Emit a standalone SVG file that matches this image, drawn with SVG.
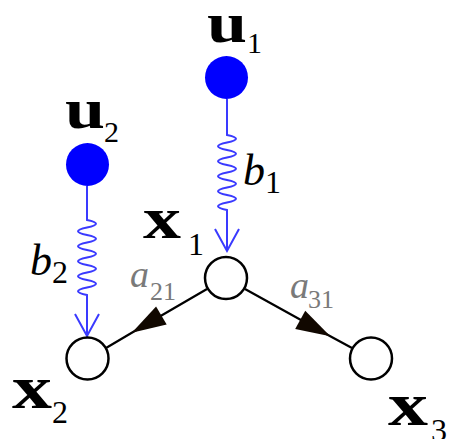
<svg xmlns="http://www.w3.org/2000/svg" width="451" height="439" viewBox="0 0 451 439">
<style>
.src{fill:#0000ff}
.node{fill:#fff;stroke:#000;stroke-width:2.5}
.blue{fill:none;stroke:#3a3aff;stroke-width:2}
.edge{fill:none;stroke:#000;stroke-width:2.2}
.bf{font-family:"Liberation Serif",serif;font-weight:bold;fill:#000}
.it{font-family:"Liberation Serif",serif;font-style:italic}
.rm{font-family:"Liberation Serif",serif}
.lbl{fill:#000}
.gr{fill:#7a7a7a}
</style>
<defs>
<marker id="tri" markerUnits="userSpaceOnUse" markerWidth="40" markerHeight="30" viewBox="-38 -13 42 26" refX="0" refY="0" orient="auto">
<path d="M0,0 L-36,-11 L-36,11 Z" fill="#110800"/>
</marker>
</defs>
<g id="connectors">
<path class="blue" d="M227,99 V135 q18,3.75 0,7.5 t0,7.5 t0,7.5 t0,7.5 t0,7.5 t0,7.5 t0,7.5 t0,7.5 t0,7.5 t0,7.5 V250 M215,229 L227,251 L239,229"/>
<path class="blue" d="M87,186 V220 q18,3.75 0,7.5 t0,7.5 t0,7.5 t0,7.5 t0,7.5 t0,7.5 t0,7.5 t0,7.5 t0,7.5 t0,7.5 V336 M75,314 L87,336 L99,314"/>
<path class="edge" marker-mid="url(#tri)" d="M207,289 L131.8,332.8 L106,348"/>
<path class="edge" marker-mid="url(#tri)" d="M245,289 L330.3,336.3 L352,348"/>
</g>
<g id="u1">
<circle class="src" cx="226.5" cy="77.5" r="21.5"/>
<text class="bf" x="207" y="42" font-size="58" textLength="40" lengthAdjust="spacingAndGlyphs">u</text>
<text class="rm lbl" x="247" y="53" font-size="30">1</text>
</g>
<g id="u2">
<circle class="src" cx="87.5" cy="164.5" r="21.5"/>
<text class="bf" x="65" y="128" font-size="58" textLength="40" lengthAdjust="spacingAndGlyphs">u</text>
<text class="rm lbl" x="104" y="142" font-size="30">2</text>
</g>
<g id="b1">
<text class="it lbl" x="243" y="185" font-size="44">b</text>
<text class="rm lbl" x="265" y="193" font-size="32">1</text>
</g>
<g id="b2">
<text class="it lbl" x="30" y="275" font-size="44">b</text>
<text class="rm lbl" x="52" y="283" font-size="32">2</text>
</g>
<g id="x1">
<circle class="node" cx="226" cy="278" r="21"/>
<text class="bf" x="143" y="238" font-size="60" textLength="38" lengthAdjust="spacingAndGlyphs">x</text>
<text class="rm lbl" x="188" y="255" font-size="32">1</text>
</g>
<g id="x2">
<circle class="node" cx="87.5" cy="358.5" r="21"/>
<text class="bf" x="12" y="408" font-size="62" textLength="40" lengthAdjust="spacingAndGlyphs">x</text>
<text class="rm lbl" x="52" y="423" font-size="32">2</text>
</g>
<g id="x3">
<circle class="node" cx="371" cy="358.5" r="21"/>
<text class="bf" x="388" y="425" font-size="62" textLength="40" lengthAdjust="spacingAndGlyphs">x</text>
<text class="rm lbl" x="431" y="441" font-size="32">3</text>
</g>
<g id="a21">
<text class="it gr" x="130" y="287" font-size="38">a</text>
<text class="rm gr" x="150" y="300" font-size="26">21</text>
</g>
<g id="a31">
<text class="it gr" x="290" y="298" font-size="38">a</text>
<text class="rm gr" x="308" y="308" font-size="26">31</text>
</g>
</svg>
